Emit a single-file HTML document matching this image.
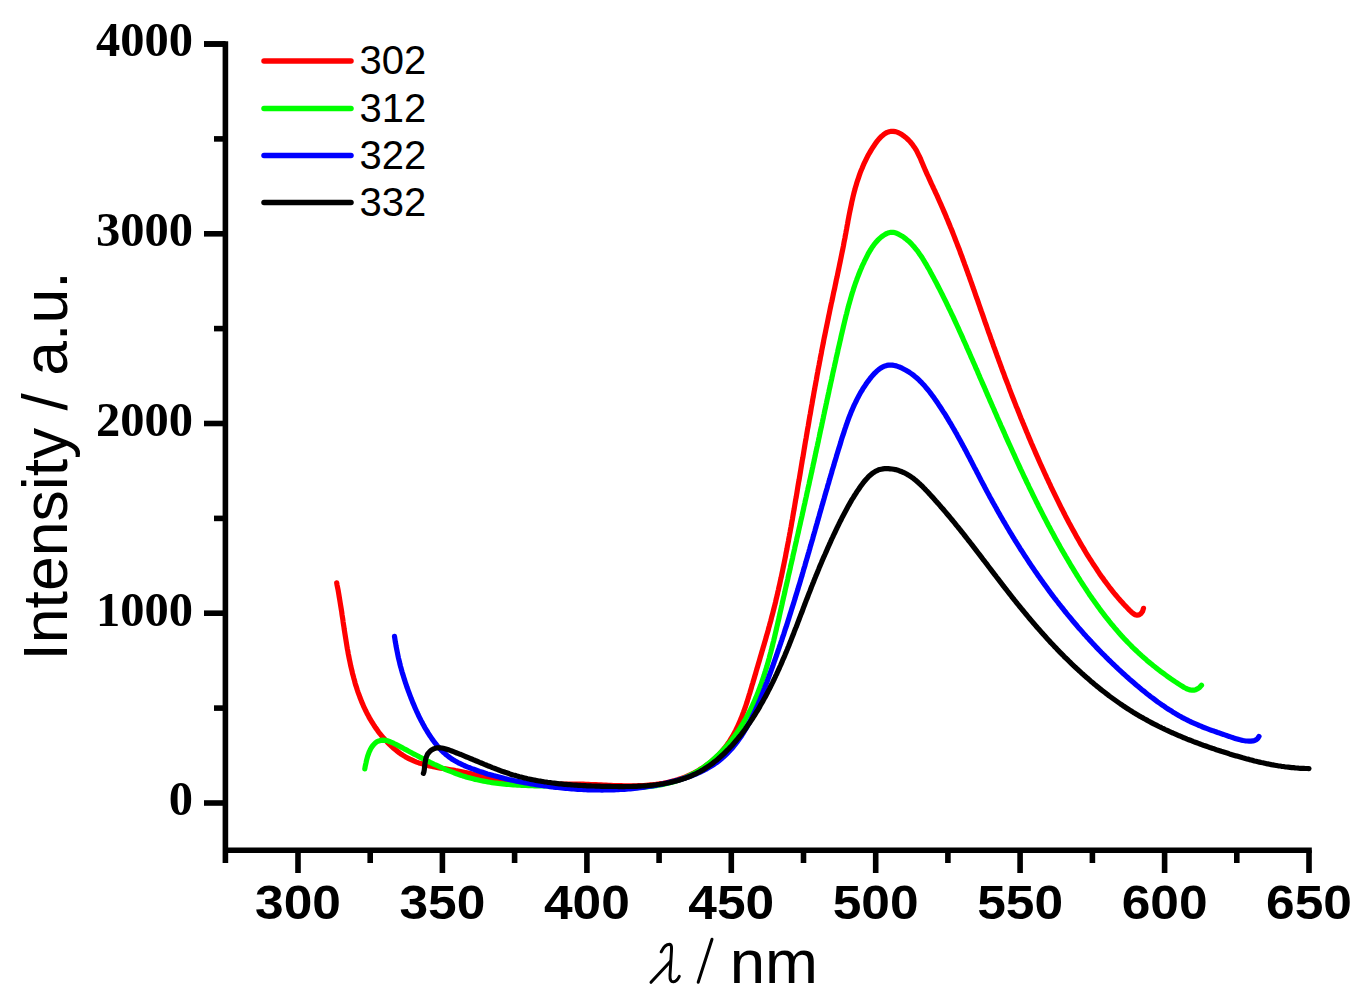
<!DOCTYPE html>
<html><head><meta charset="utf-8"><style>
html,body{margin:0;padding:0;background:#fff;}
svg{display:block;}
</style></head><body>
<svg width="1363" height="1006" viewBox="0 0 1363 1006">
<rect width="1363" height="1006" fill="#fff"/>
<g fill="none" stroke-width="5.2" stroke-linejoin="round" stroke-linecap="round">
<path d="M336.7 582.8 L337.1 585.2 L337.6 587.6 L338.1 590.0 L338.5 592.4 L338.9 594.8 L339.3 597.2 L339.7 599.7 L340.1 602.1 L340.5 604.6 L340.9 607.0 L341.3 609.5 L341.7 611.9 L342.0 614.4 L342.4 616.9 L342.8 619.3 L343.1 621.8 L343.5 624.3 L343.9 626.8 L344.2 629.2 L344.6 631.7 L345.0 634.2 L345.4 636.7 L345.8 639.1 L346.2 641.6 L346.6 644.1 L347.0 646.6 L347.4 649.0 L347.9 651.5 L348.3 654.0 L348.8 656.4 L349.3 658.9 L349.8 661.3 L350.3 663.8 L350.8 666.2 L351.4 668.6 L352.0 671.0 L352.5 673.4 L353.2 675.8 L353.8 678.2 L354.5 680.6 L355.1 683.0 L355.8 685.4 L356.6 687.7 L357.3 690.0 L358.1 692.4 L359.0 694.7 L359.8 697.0 L360.7 699.3 L361.6 701.6 L362.6 703.8 L363.5 706.1 L364.6 708.3 L365.6 710.5 L366.7 712.7 L367.9 714.9 L369.0 717.1 L370.2 719.2 L371.5 721.3 L372.8 723.4 L374.1 725.5 L375.5 727.6 L377.0 729.6 L378.4 731.7 L379.9 733.7 L381.5 735.6 L383.1 737.6 L384.8 739.4 L386.5 741.3 L388.2 743.1 L390.0 744.9 L391.8 746.6 L393.6 748.2 L395.5 749.8 L397.5 751.4 L399.4 752.9 L401.4 754.3 L403.5 755.6 L405.6 756.9 L407.7 758.1 L409.9 759.2 L412.1 760.2 L414.3 761.2 L416.6 762.1 L418.9 762.9 L421.2 763.6 L423.6 764.3 L425.9 765.0 L428.3 765.6 L430.8 766.1 L433.2 766.7 L435.7 767.1 L438.1 767.6 L440.6 768.1 L443.1 768.5 L445.6 768.9 L448.1 769.3 L450.6 769.7 L453.1 770.1 L455.6 770.6 L458.1 771.0 L460.6 771.5 L463.1 772.0 L465.5 772.5 L468.0 773.0 L470.4 773.6 L472.9 774.2 L475.3 774.8 L477.8 775.4 L480.2 776.0 L482.6 776.7 L485.0 777.3 L487.4 777.9 L489.9 778.6 L492.3 779.2 L494.7 779.8 L497.1 780.3 L499.5 780.9 L501.9 781.4 L504.3 781.9 L506.7 782.3 L509.1 782.7 L511.5 783.1 L513.9 783.4 L516.4 783.7 L518.8 783.9 L521.2 784.1 L523.7 784.3 L526.1 784.4 L528.6 784.5 L531.0 784.6 L533.5 784.6 L535.9 784.7 L538.4 784.7 L540.8 784.7 L543.3 784.6 L545.8 784.6 L548.3 784.5 L550.7 784.5 L553.2 784.4 L555.7 784.4 L558.2 784.3 L560.7 784.2 L563.2 784.2 L565.7 784.1 L568.2 784.1 L570.7 784.1 L573.2 784.1 L575.7 784.1 L578.3 784.1 L580.8 784.2 L583.3 784.2 L585.8 784.3 L588.4 784.4 L590.9 784.5 L593.4 784.6 L596.0 784.7 L598.5 784.8 L601.0 784.9 L603.6 785.1 L606.1 785.2 L608.6 785.3 L611.1 785.4 L613.7 785.5 L616.2 785.6 L618.7 785.6 L621.2 785.7 L623.7 785.8 L626.2 785.8 L628.8 785.8 L631.3 785.8 L633.7 785.8 L636.2 785.8 L638.7 785.7 L641.2 785.6 L643.7 785.5 L646.1 785.3 L648.6 785.1 L651.0 784.9 L653.5 784.7 L655.9 784.4 L658.3 784.0 L660.8 783.7 L663.2 783.3 L665.6 782.8 L667.9 782.3 L670.3 781.7 L672.7 781.1 L675.0 780.5 L677.4 779.8 L679.7 779.0 L682.0 778.2 L684.3 777.3 L686.6 776.4 L688.9 775.4 L691.1 774.4 L693.3 773.3 L695.6 772.1 L697.7 770.9 L699.9 769.6 L702.0 768.3 L704.1 766.9 L706.1 765.5 L708.1 764.1 L710.1 762.5 L712.0 761.0 L713.9 759.3 L715.7 757.7 L717.5 756.0 L719.2 754.2 L720.9 752.4 L722.5 750.6 L724.0 748.7 L725.5 746.8 L727.0 744.8 L728.4 742.8 L729.7 740.8 L731.0 738.7 L732.3 736.7 L733.5 734.5 L734.6 732.4 L735.8 730.2 L736.9 728.0 L737.9 725.8 L738.9 723.5 L739.9 721.2 L740.9 718.9 L741.8 716.6 L742.7 714.3 L743.6 711.9 L744.4 709.6 L745.3 707.2 L746.1 704.8 L746.9 702.4 L747.6 700.0 L748.4 697.6 L749.1 695.1 L749.9 692.7 L750.6 690.3 L751.3 687.9 L752.0 685.4 L752.8 683.0 L753.5 680.6 L754.2 678.2 L754.9 675.8 L755.6 673.4 L756.3 670.9 L757.0 668.5 L757.7 666.2 L758.4 663.8 L759.1 661.4 L759.8 659.0 L760.5 656.6 L761.2 654.2 L761.9 651.8 L762.6 649.5 L763.3 647.1 L764.0 644.7 L764.7 642.3 L765.4 640.0 L766.1 637.6 L766.7 635.2 L767.4 632.9 L768.1 630.5 L768.7 628.1 L769.4 625.7 L770.0 623.4 L770.7 621.0 L771.3 618.6 L771.9 616.2 L772.6 613.8 L773.2 611.4 L773.8 609.0 L774.4 606.7 L775.0 604.3 L775.6 601.9 L776.1 599.5 L776.7 597.1 L777.3 594.7 L777.8 592.2 L778.4 589.8 L778.9 587.4 L779.5 585.0 L780.0 582.6 L780.5 580.2 L781.1 577.7 L781.6 575.3 L782.1 572.9 L782.6 570.5 L783.1 568.0 L783.6 565.6 L784.1 563.2 L784.6 560.7 L785.1 558.3 L785.6 555.9 L786.0 553.4 L786.5 551.0 L787.0 548.6 L787.4 546.1 L787.9 543.7 L788.4 541.2 L788.8 538.8 L789.3 536.3 L789.7 533.9 L790.2 531.4 L790.6 529.0 L791.1 526.5 L791.5 524.1 L791.9 521.6 L792.4 519.2 L792.8 516.7 L793.2 514.3 L793.6 511.8 L794.1 509.4 L794.5 506.9 L794.9 504.4 L795.3 502.0 L795.7 499.5 L796.2 497.1 L796.6 494.6 L797.0 492.2 L797.4 489.7 L797.8 487.2 L798.2 484.8 L798.6 482.3 L799.1 479.9 L799.5 477.4 L799.9 475.0 L800.3 472.5 L800.7 470.1 L801.1 467.6 L801.5 465.1 L801.9 462.7 L802.3 460.2 L802.8 457.8 L803.2 455.3 L803.6 452.9 L804.0 450.4 L804.4 448.0 L804.8 445.5 L805.2 443.1 L805.6 440.6 L806.1 438.2 L806.5 435.7 L806.9 433.3 L807.3 430.8 L807.7 428.4 L808.2 425.9 L808.6 423.5 L809.0 421.0 L809.4 418.6 L809.8 416.1 L810.3 413.7 L810.7 411.3 L811.1 408.8 L811.5 406.4 L812.0 403.9 L812.4 401.5 L812.8 399.0 L813.3 396.6 L813.7 394.1 L814.1 391.7 L814.6 389.3 L815.0 386.8 L815.5 384.4 L815.9 381.9 L816.4 379.5 L816.8 377.0 L817.2 374.6 L817.7 372.2 L818.1 369.7 L818.6 367.3 L819.1 364.8 L819.5 362.4 L820.0 360.0 L820.4 357.5 L820.9 355.1 L821.4 352.7 L821.8 350.2 L822.3 347.8 L822.8 345.3 L823.3 342.9 L823.7 340.5 L824.2 338.0 L824.7 335.6 L825.2 333.2 L825.7 330.7 L826.2 328.3 L826.7 325.9 L827.2 323.4 L827.7 321.0 L828.2 318.6 L828.7 316.1 L829.2 313.7 L829.7 311.3 L830.2 308.8 L830.7 306.4 L831.2 304.0 L831.8 301.5 L832.3 299.1 L832.8 296.7 L833.3 294.2 L833.8 291.8 L834.4 289.4 L834.9 286.9 L835.4 284.5 L835.9 282.1 L836.4 279.6 L837.0 277.2 L837.5 274.8 L838.0 272.3 L838.5 269.9 L839.0 267.5 L839.5 265.0 L840.0 262.6 L840.5 260.2 L841.0 257.7 L841.5 255.3 L842.0 252.8 L842.5 250.4 L843.0 248.0 L843.5 245.5 L843.9 243.1 L844.4 240.6 L844.9 238.2 L845.3 235.8 L845.8 233.3 L846.2 230.9 L846.7 228.4 L847.1 226.0 L847.6 223.5 L848.0 221.1 L848.5 218.6 L848.9 216.2 L849.4 213.8 L849.9 211.3 L850.4 208.9 L850.9 206.5 L851.4 204.1 L851.9 201.6 L852.5 199.2 L853.0 196.8 L853.6 194.4 L854.2 192.0 L854.9 189.6 L855.5 187.2 L856.2 184.9 L856.9 182.5 L857.7 180.1 L858.5 177.8 L859.3 175.4 L860.1 173.1 L861.0 170.8 L862.0 168.5 L862.9 166.2 L863.9 163.9 L865.0 161.6 L866.1 159.3 L867.2 157.1 L868.4 154.8 L869.7 152.6 L871.0 150.4 L872.3 148.2 L873.8 146.0 L875.2 143.8 L876.8 141.7 L878.3 139.7 L880.0 137.9 L881.7 136.2 L883.5 134.7 L885.3 133.4 L887.2 132.4 L889.2 131.7 L891.2 131.3 L893.3 131.3 L895.5 131.6 L897.7 132.4 L900.0 133.5 L902.2 134.8 L904.4 136.4 L906.5 138.1 L908.5 140.0 L910.4 142.0 L912.1 144.1 L913.6 146.2 L915.1 148.3 L916.4 150.4 L917.5 152.6 L918.6 154.8 L919.7 157.0 L920.7 159.2 L921.6 161.4 L922.6 163.7 L923.5 165.9 L924.5 168.2 L925.4 170.4 L926.4 172.6 L927.4 174.9 L928.5 177.1 L929.5 179.4 L930.5 181.6 L931.5 183.9 L932.6 186.1 L933.6 188.4 L934.7 190.6 L935.7 192.9 L936.8 195.2 L937.8 197.4 L938.8 199.7 L939.8 202.0 L940.8 204.2 L941.8 206.5 L942.8 208.8 L943.8 211.1 L944.8 213.4 L945.8 215.7 L946.7 218.0 L947.7 220.3 L948.6 222.6 L949.6 224.9 L950.5 227.2 L951.5 229.5 L952.4 231.8 L953.3 234.1 L954.2 236.4 L955.1 238.7 L956.0 241.1 L956.9 243.4 L957.8 245.7 L958.7 248.0 L959.6 250.3 L960.4 252.7 L961.3 255.0 L962.2 257.3 L963.0 259.7 L963.9 262.0 L964.7 264.3 L965.6 266.7 L966.4 269.0 L967.3 271.4 L968.1 273.7 L969.0 276.0 L969.8 278.4 L970.6 280.7 L971.5 283.1 L972.3 285.4 L973.1 287.8 L974.0 290.1 L974.8 292.5 L975.6 294.8 L976.4 297.2 L977.3 299.5 L978.1 301.8 L978.9 304.2 L979.7 306.5 L980.5 308.9 L981.3 311.2 L982.2 313.6 L983.0 315.9 L983.8 318.3 L984.6 320.6 L985.4 323.0 L986.3 325.3 L987.1 327.7 L987.9 330.0 L988.7 332.3 L989.6 334.7 L990.4 337.0 L991.2 339.4 L992.1 341.7 L992.9 344.0 L993.7 346.4 L994.6 348.7 L995.4 351.0 L996.3 353.4 L997.1 355.7 L998.0 358.0 L998.8 360.4 L999.7 362.7 L1000.5 365.0 L1001.4 367.4 L1002.2 369.7 L1003.1 372.0 L1004.0 374.3 L1004.8 376.7 L1005.7 379.0 L1006.6 381.3 L1007.5 383.6 L1008.4 385.9 L1009.2 388.2 L1010.1 390.6 L1011.0 392.9 L1011.9 395.2 L1012.8 397.5 L1013.7 399.8 L1014.6 402.1 L1015.5 404.4 L1016.4 406.7 L1017.4 409.0 L1018.3 411.3 L1019.2 413.6 L1020.1 415.9 L1021.0 418.2 L1022.0 420.5 L1022.9 422.8 L1023.9 425.1 L1024.8 427.4 L1025.8 429.7 L1026.7 432.0 L1027.7 434.3 L1028.6 436.6 L1029.6 438.9 L1030.6 441.2 L1031.5 443.5 L1032.5 445.7 L1033.5 448.0 L1034.5 450.3 L1035.5 452.6 L1036.5 454.9 L1037.5 457.1 L1038.5 459.4 L1039.5 461.7 L1040.5 464.0 L1041.5 466.2 L1042.6 468.5 L1043.6 470.8 L1044.6 473.0 L1045.7 475.3 L1046.7 477.6 L1047.8 479.8 L1048.8 482.1 L1049.9 484.3 L1050.9 486.6 L1052.0 488.9 L1053.1 491.1 L1054.2 493.4 L1055.3 495.6 L1056.4 497.9 L1057.5 500.1 L1058.6 502.3 L1059.7 504.6 L1060.8 506.8 L1061.9 509.1 L1063.1 511.3 L1064.2 513.5 L1065.3 515.7 L1066.5 517.9 L1067.7 520.2 L1068.8 522.4 L1070.0 524.6 L1071.2 526.8 L1072.4 529.0 L1073.6 531.1 L1074.8 533.3 L1076.0 535.5 L1077.2 537.7 L1078.5 539.8 L1079.7 542.0 L1080.9 544.1 L1082.2 546.3 L1083.5 548.4 L1084.7 550.5 L1086.0 552.7 L1087.3 554.8 L1088.6 556.9 L1089.9 559.0 L1091.3 561.0 L1092.6 563.1 L1094.0 565.2 L1095.3 567.2 L1096.7 569.3 L1098.0 571.3 L1099.4 573.4 L1100.8 575.4 L1102.2 577.4 L1103.7 579.4 L1105.1 581.4 L1106.5 583.3 L1108.0 585.3 L1109.5 587.3 L1111.0 589.2 L1112.5 591.1 L1114.1 593.1 L1115.7 595.0 L1117.3 596.9 L1118.9 598.8 L1120.6 600.7 L1122.3 602.6 L1124.0 604.5 L1125.8 606.3 L1127.6 608.2 L1129.4 610.1 L1131.3 611.9 L1133.2 613.5 L1135.1 614.7 L1137.1 615.2 L1139.0 615.0 L1140.8 613.7 L1142.6 611.2 L1143.5 608.3" stroke="#ff0000"/>
<path d="M364.8 768.9 L365.1 767.1 L365.5 765.1 L366.0 763.0 L366.4 760.9 L367.0 758.6 L367.6 756.4 L368.4 754.1 L369.2 751.9 L370.2 749.8 L371.3 747.8 L372.5 746.0 L373.9 744.3 L375.4 742.9 L377.1 741.7 L379.0 740.9 L381.0 740.3 L383.1 740.1 L385.3 740.3 L387.4 740.8 L389.5 741.5 L391.5 742.3 L393.5 743.2 L395.4 744.2 L397.3 745.1 L399.2 746.1 L401.1 747.1 L403.0 748.1 L404.8 749.2 L406.8 750.2 L408.7 751.2 L410.6 752.2 L412.5 753.3 L414.5 754.3 L416.4 755.3 L418.4 756.3 L420.3 757.4 L422.3 758.4 L424.3 759.4 L426.2 760.4 L428.2 761.4 L430.2 762.4 L432.2 763.3 L434.2 764.3 L436.2 765.2 L438.3 766.2 L440.3 767.1 L442.3 768.0 L444.3 768.9 L446.4 769.8 L448.4 770.6 L450.5 771.4 L452.5 772.2 L454.6 773.0 L456.6 773.8 L458.7 774.5 L460.7 775.2 L462.8 775.9 L464.9 776.5 L466.9 777.2 L469.0 777.7 L471.1 778.3 L473.2 778.8 L475.2 779.4 L477.3 779.8 L479.4 780.3 L481.5 780.7 L483.6 781.1 L485.7 781.5 L487.8 781.9 L489.9 782.2 L492.0 782.6 L494.1 782.9 L496.2 783.1 L498.3 783.4 L500.4 783.7 L502.5 783.9 L504.7 784.1 L506.8 784.3 L508.9 784.5 L511.0 784.7 L513.2 784.8 L515.3 784.9 L517.4 785.1 L519.6 785.2 L521.7 785.3 L523.9 785.4 L526.0 785.5 L528.2 785.6 L530.3 785.6 L532.5 785.7 L534.6 785.8 L536.8 785.8 L539.0 785.9 L541.2 785.9 L543.3 785.9 L545.5 786.0 L547.7 786.0 L549.9 786.0 L552.1 786.1 L554.3 786.1 L556.5 786.1 L558.7 786.2 L560.9 786.2 L563.1 786.3 L565.3 786.3 L567.5 786.3 L569.8 786.4 L572.0 786.5 L574.2 786.5 L576.5 786.6 L578.7 786.7 L580.9 786.7 L583.2 786.8 L585.4 786.9 L587.7 787.0 L589.9 787.1 L592.2 787.2 L594.4 787.3 L596.7 787.4 L598.9 787.5 L601.2 787.5 L603.4 787.6 L605.7 787.7 L607.9 787.8 L610.2 787.8 L612.4 787.9 L614.7 787.9 L616.9 787.9 L619.2 788.0 L621.4 788.0 L623.6 788.0 L625.8 787.9 L628.1 787.9 L630.3 787.8 L632.5 787.8 L634.7 787.7 L636.9 787.6 L639.1 787.5 L641.3 787.3 L643.4 787.1 L645.6 787.0 L647.8 786.7 L649.9 786.5 L652.0 786.2 L654.2 785.9 L656.3 785.6 L658.4 785.3 L660.5 784.9 L662.6 784.5 L664.7 784.1 L666.7 783.6 L668.8 783.1 L670.8 782.6 L672.9 782.0 L674.9 781.4 L676.9 780.8 L678.9 780.1 L680.8 779.4 L682.8 778.6 L684.7 777.8 L686.7 777.0 L688.6 776.1 L690.5 775.1 L692.3 774.2 L694.2 773.2 L696.0 772.1 L697.9 771.0 L699.7 769.9 L701.5 768.7 L703.2 767.5 L705.0 766.2 L706.7 764.9 L708.4 763.6 L710.1 762.2 L711.8 760.9 L713.4 759.4 L715.0 758.0 L716.6 756.5 L718.2 755.0 L719.8 753.5 L721.3 751.9 L722.8 750.3 L724.3 748.7 L725.8 747.1 L727.2 745.4 L728.6 743.8 L730.0 742.1 L731.4 740.4 L732.7 738.6 L734.0 736.9 L735.3 735.1 L736.5 733.4 L737.8 731.6 L739.0 729.8 L740.1 728.0 L741.3 726.2 L742.4 724.3 L743.5 722.5 L744.6 720.6 L745.7 718.8 L746.7 716.9 L747.7 715.0 L748.7 713.1 L749.7 711.1 L750.7 709.2 L751.6 707.3 L752.5 705.3 L753.4 703.3 L754.3 701.4 L755.1 699.4 L756.0 697.4 L756.8 695.4 L757.6 693.4 L758.4 691.4 L759.2 689.3 L759.9 687.3 L760.7 685.3 L761.4 683.2 L762.1 681.2 L762.8 679.1 L763.5 677.0 L764.2 674.9 L764.8 672.9 L765.5 670.8 L766.1 668.7 L766.8 666.6 L767.4 664.5 L768.0 662.4 L768.6 660.2 L769.2 658.1 L769.7 656.0 L770.3 653.9 L770.9 651.7 L771.4 649.6 L772.0 647.5 L772.5 645.3 L773.0 643.2 L773.6 641.1 L774.1 638.9 L774.6 636.8 L775.1 634.6 L775.6 632.5 L776.1 630.3 L776.6 628.2 L777.1 626.0 L777.6 623.9 L778.1 621.7 L778.6 619.6 L779.1 617.4 L779.5 615.3 L780.0 613.1 L780.5 611.0 L781.0 608.8 L781.5 606.7 L782.0 604.5 L782.4 602.4 L782.9 600.3 L783.4 598.1 L783.9 596.0 L784.4 593.9 L784.9 591.7 L785.3 589.6 L785.8 587.5 L786.3 585.3 L786.8 583.2 L787.3 581.1 L787.8 579.0 L788.2 576.8 L788.7 574.7 L789.2 572.6 L789.7 570.5 L790.2 568.3 L790.6 566.2 L791.1 564.1 L791.6 562.0 L792.1 559.9 L792.6 557.8 L793.0 555.6 L793.5 553.5 L794.0 551.4 L794.5 549.3 L794.9 547.2 L795.4 545.1 L795.9 542.9 L796.4 540.8 L796.8 538.7 L797.3 536.6 L797.8 534.5 L798.3 532.4 L798.7 530.3 L799.2 528.2 L799.7 526.0 L800.2 523.9 L800.6 521.8 L801.1 519.7 L801.6 517.6 L802.1 515.5 L802.5 513.4 L803.0 511.3 L803.5 509.2 L803.9 507.0 L804.4 504.9 L804.9 502.8 L805.3 500.7 L805.8 498.6 L806.3 496.5 L806.7 494.4 L807.2 492.2 L807.7 490.1 L808.1 488.0 L808.6 485.9 L809.1 483.8 L809.5 481.7 L810.0 479.5 L810.5 477.4 L810.9 475.3 L811.4 473.2 L811.9 471.1 L812.3 468.9 L812.8 466.8 L813.2 464.7 L813.7 462.6 L814.2 460.4 L814.6 458.3 L815.1 456.2 L815.5 454.0 L816.0 451.9 L816.4 449.8 L816.9 447.7 L817.4 445.5 L817.8 443.4 L818.3 441.3 L818.7 439.1 L819.2 437.0 L819.6 434.9 L820.1 432.7 L820.5 430.6 L821.0 428.4 L821.5 426.3 L821.9 424.2 L822.4 422.0 L822.8 419.9 L823.3 417.8 L823.7 415.6 L824.2 413.5 L824.6 411.4 L825.1 409.2 L825.6 407.1 L826.0 404.9 L826.5 402.8 L826.9 400.7 L827.4 398.5 L827.9 396.4 L828.3 394.3 L828.8 392.1 L829.2 390.0 L829.7 387.9 L830.2 385.7 L830.6 383.6 L831.1 381.5 L831.6 379.3 L832.0 377.2 L832.5 375.1 L832.9 372.9 L833.4 370.8 L833.9 368.7 L834.4 366.5 L834.8 364.4 L835.3 362.3 L835.8 360.1 L836.2 358.0 L836.7 355.9 L837.2 353.8 L837.7 351.6 L838.1 349.5 L838.6 347.4 L839.1 345.3 L839.6 343.2 L840.1 341.0 L840.6 338.9 L841.0 336.8 L841.5 334.7 L842.0 332.6 L842.5 330.5 L843.0 328.3 L843.5 326.2 L844.0 324.1 L844.5 322.0 L845.0 319.9 L845.5 317.8 L846.0 315.7 L846.6 313.6 L847.1 311.5 L847.6 309.4 L848.2 307.3 L848.7 305.2 L849.3 303.2 L849.9 301.1 L850.5 299.0 L851.1 296.9 L851.7 294.8 L852.3 292.8 L853.0 290.7 L853.6 288.6 L854.3 286.6 L855.0 284.5 L855.7 282.5 L856.5 280.4 L857.2 278.4 L858.0 276.4 L858.8 274.3 L859.6 272.3 L860.4 270.3 L861.3 268.3 L862.1 266.3 L863.0 264.3 L864.0 262.3 L864.9 260.3 L865.9 258.3 L866.9 256.3 L867.9 254.3 L869.0 252.4 L870.1 250.5 L871.3 248.6 L872.5 246.7 L873.8 244.9 L875.2 243.2 L876.6 241.5 L878.1 239.9 L879.7 238.4 L881.4 236.9 L883.2 235.6 L885.1 234.4 L887.0 233.4 L888.9 232.7 L890.9 232.3 L892.9 232.3 L894.8 232.6 L896.7 233.3 L898.6 234.2 L900.4 235.2 L902.2 236.2 L903.9 237.4 L905.5 238.6 L907.1 239.9 L908.7 241.2 L910.2 242.7 L911.7 244.2 L913.1 245.7 L914.5 247.3 L915.8 249.0 L917.2 250.6 L918.5 252.4 L919.7 254.2 L921.0 256.0 L922.2 257.8 L923.3 259.7 L924.5 261.6 L925.6 263.5 L926.8 265.4 L927.9 267.4 L929.0 269.3 L930.1 271.3 L931.1 273.3 L932.2 275.2 L933.3 277.2 L934.3 279.1 L935.3 281.1 L936.4 283.1 L937.4 285.0 L938.4 287.0 L939.4 288.9 L940.4 290.9 L941.4 292.9 L942.4 294.8 L943.4 296.8 L944.4 298.8 L945.3 300.7 L946.3 302.7 L947.2 304.6 L948.2 306.6 L949.1 308.6 L950.1 310.5 L951.0 312.5 L951.9 314.5 L952.9 316.4 L953.8 318.4 L954.7 320.4 L955.6 322.3 L956.5 324.3 L957.4 326.3 L958.3 328.2 L959.2 330.2 L960.1 332.2 L961.0 334.1 L961.9 336.1 L962.8 338.1 L963.6 340.1 L964.5 342.0 L965.4 344.0 L966.3 346.0 L967.1 348.0 L968.0 349.9 L968.9 351.9 L969.8 353.9 L970.6 355.9 L971.5 357.8 L972.4 359.8 L973.2 361.8 L974.1 363.8 L975.0 365.8 L975.8 367.8 L976.7 369.7 L977.6 371.7 L978.4 373.7 L979.3 375.7 L980.1 377.7 L981.0 379.7 L981.9 381.7 L982.7 383.7 L983.6 385.6 L984.5 387.6 L985.3 389.6 L986.2 391.6 L987.0 393.6 L987.9 395.6 L988.8 397.6 L989.6 399.6 L990.5 401.6 L991.4 403.6 L992.2 405.6 L993.1 407.5 L994.0 409.5 L994.8 411.5 L995.7 413.5 L996.6 415.5 L997.4 417.5 L998.3 419.5 L999.2 421.5 L1000.1 423.5 L1000.9 425.5 L1001.8 427.4 L1002.7 429.4 L1003.6 431.4 L1004.5 433.4 L1005.3 435.4 L1006.2 437.4 L1007.1 439.4 L1008.0 441.4 L1008.9 443.3 L1009.8 445.3 L1010.7 447.3 L1011.6 449.3 L1012.5 451.3 L1013.4 453.3 L1014.3 455.2 L1015.2 457.2 L1016.1 459.2 L1017.0 461.2 L1017.9 463.2 L1018.8 465.1 L1019.7 467.1 L1020.6 469.1 L1021.6 471.1 L1022.5 473.0 L1023.4 475.0 L1024.3 477.0 L1025.3 478.9 L1026.2 480.9 L1027.1 482.9 L1028.1 484.8 L1029.0 486.8 L1030.0 488.8 L1030.9 490.7 L1031.9 492.7 L1032.8 494.6 L1033.8 496.6 L1034.8 498.6 L1035.7 500.5 L1036.7 502.5 L1037.7 504.4 L1038.6 506.4 L1039.6 508.3 L1040.6 510.2 L1041.6 512.2 L1042.6 514.1 L1043.6 516.1 L1044.6 518.0 L1045.6 519.9 L1046.6 521.9 L1047.6 523.8 L1048.6 525.7 L1049.7 527.6 L1050.7 529.6 L1051.7 531.5 L1052.8 533.4 L1053.8 535.3 L1054.8 537.2 L1055.9 539.2 L1057.0 541.1 L1058.0 543.0 L1059.1 544.9 L1060.1 546.8 L1061.2 548.7 L1062.3 550.6 L1063.4 552.5 L1064.5 554.4 L1065.6 556.3 L1066.7 558.1 L1067.8 560.0 L1068.9 561.9 L1070.0 563.8 L1071.1 565.7 L1072.3 567.5 L1073.4 569.4 L1074.5 571.3 L1075.7 573.1 L1076.8 575.0 L1078.0 576.9 L1079.2 578.7 L1080.3 580.6 L1081.5 582.4 L1082.7 584.3 L1083.9 586.1 L1085.1 587.9 L1086.3 589.7 L1087.5 591.6 L1088.7 593.4 L1089.9 595.2 L1091.2 597.0 L1092.4 598.8 L1093.7 600.6 L1094.9 602.3 L1096.2 604.1 L1097.5 605.9 L1098.8 607.6 L1100.0 609.4 L1101.3 611.1 L1102.7 612.9 L1104.0 614.6 L1105.3 616.3 L1106.6 618.0 L1108.0 619.7 L1109.3 621.4 L1110.7 623.1 L1112.1 624.8 L1113.5 626.4 L1114.9 628.1 L1116.3 629.7 L1117.7 631.4 L1119.1 633.0 L1120.5 634.6 L1122.0 636.2 L1123.4 637.8 L1124.9 639.4 L1126.4 640.9 L1127.9 642.5 L1129.4 644.0 L1130.9 645.5 L1132.4 647.1 L1134.0 648.6 L1135.5 650.0 L1137.1 651.5 L1138.6 653.0 L1140.2 654.4 L1141.8 655.9 L1143.4 657.3 L1145.1 658.7 L1146.7 660.2 L1148.3 661.6 L1150.0 662.9 L1151.7 664.3 L1153.4 665.7 L1155.1 667.0 L1156.8 668.4 L1158.5 669.7 L1160.2 671.1 L1162.0 672.4 L1163.8 673.7 L1165.6 675.0 L1167.4 676.3 L1169.2 677.6 L1171.0 678.9 L1172.8 680.1 L1174.7 681.4 L1176.6 682.6 L1178.5 683.9 L1180.4 685.1 L1182.3 686.3 L1184.2 687.5 L1186.2 688.5 L1188.1 689.3 L1190.0 689.9 L1192.0 690.2 L1193.9 690.1 L1195.8 689.7 L1197.8 688.7 L1199.7 687.3 L1201.5 685.3" stroke="#00ff00"/>
<path d="M394.5 636.3 L394.8 638.3 L395.1 640.3 L395.4 642.3 L395.8 644.3 L396.1 646.3 L396.5 648.3 L396.9 650.3 L397.3 652.2 L397.7 654.2 L398.1 656.2 L398.5 658.1 L399.0 660.1 L399.5 662.0 L399.9 664.0 L400.4 665.9 L401.0 667.9 L401.5 669.8 L402.0 671.7 L402.6 673.6 L403.2 675.6 L403.8 677.5 L404.4 679.4 L405.0 681.3 L405.6 683.2 L406.3 685.1 L406.9 687.0 L407.6 688.9 L408.3 690.8 L409.0 692.7 L409.7 694.6 L410.4 696.4 L411.1 698.3 L411.9 700.2 L412.6 702.1 L413.4 703.9 L414.2 705.8 L415.0 707.7 L415.8 709.5 L416.6 711.3 L417.5 713.2 L418.3 715.0 L419.2 716.8 L420.1 718.6 L421.0 720.4 L422.0 722.2 L422.9 724.0 L423.9 725.8 L424.8 727.5 L425.8 729.2 L426.9 730.9 L427.9 732.6 L429.0 734.3 L430.1 736.0 L431.2 737.6 L432.3 739.2 L433.4 740.8 L434.6 742.4 L435.8 743.9 L437.0 745.5 L438.3 746.9 L439.6 748.4 L440.9 749.8 L442.3 751.2 L443.7 752.6 L445.2 753.9 L446.7 755.1 L448.2 756.4 L449.8 757.5 L451.4 758.7 L453.1 759.8 L454.8 760.8 L456.6 761.8 L458.4 762.8 L460.3 763.7 L462.2 764.6 L464.1 765.5 L466.0 766.3 L467.9 767.1 L469.9 767.8 L471.8 768.6 L473.8 769.3 L475.8 770.0 L477.7 770.7 L479.7 771.4 L481.6 772.0 L483.6 772.6 L485.5 773.3 L487.4 773.9 L489.4 774.4 L491.3 775.0 L493.3 775.6 L495.2 776.1 L497.1 776.6 L499.1 777.1 L501.0 777.6 L502.9 778.1 L504.9 778.6 L506.8 779.0 L508.7 779.5 L510.7 779.9 L512.6 780.3 L514.6 780.7 L516.5 781.1 L518.4 781.5 L520.4 781.9 L522.3 782.3 L524.3 782.6 L526.2 783.0 L528.1 783.3 L530.1 783.6 L532.1 784.0 L534.0 784.3 L536.0 784.6 L537.9 784.9 L539.9 785.2 L541.9 785.5 L543.8 785.8 L545.8 786.0 L547.8 786.3 L549.8 786.6 L551.8 786.8 L553.7 787.1 L555.7 787.3 L557.7 787.5 L559.7 787.7 L561.7 787.9 L563.7 788.1 L565.7 788.3 L567.7 788.5 L569.7 788.7 L571.7 788.9 L573.7 789.0 L575.7 789.1 L577.8 789.3 L579.8 789.4 L581.8 789.5 L583.8 789.6 L585.8 789.7 L587.8 789.8 L589.8 789.9 L591.9 789.9 L593.9 790.0 L595.9 790.0 L597.9 790.0 L600.0 790.0 L602.0 790.1 L604.0 790.0 L606.0 790.0 L608.1 790.0 L610.1 789.9 L612.1 789.9 L614.1 789.8 L616.2 789.7 L618.2 789.6 L620.2 789.5 L622.2 789.4 L624.3 789.3 L626.3 789.1 L628.3 788.9 L630.3 788.8 L632.4 788.6 L634.4 788.4 L636.4 788.2 L638.4 787.9 L640.4 787.7 L642.5 787.4 L644.5 787.1 L646.5 786.8 L648.5 786.5 L650.5 786.2 L652.6 785.9 L654.6 785.5 L656.6 785.1 L658.6 784.8 L660.6 784.4 L662.6 783.9 L664.6 783.5 L666.6 783.0 L668.6 782.6 L670.6 782.1 L672.6 781.6 L674.6 781.1 L676.6 780.5 L678.6 780.0 L680.5 779.4 L682.5 778.8 L684.4 778.2 L686.4 777.5 L688.3 776.9 L690.2 776.2 L692.1 775.5 L694.0 774.7 L695.9 774.0 L697.7 773.2 L699.6 772.3 L701.4 771.5 L703.2 770.6 L704.9 769.7 L706.7 768.8 L708.4 767.8 L710.1 766.8 L711.8 765.8 L713.4 764.8 L715.0 763.7 L716.6 762.6 L718.2 761.4 L719.7 760.2 L721.2 759.0 L722.6 757.7 L724.1 756.5 L725.5 755.1 L726.9 753.8 L728.2 752.4 L729.6 751.0 L730.9 749.6 L732.1 748.2 L733.4 746.7 L734.6 745.2 L735.8 743.6 L737.0 742.1 L738.2 740.5 L739.3 738.9 L740.5 737.3 L741.6 735.7 L742.6 734.0 L743.7 732.3 L744.7 730.6 L745.8 728.9 L746.8 727.2 L747.7 725.5 L748.7 723.7 L749.7 721.9 L750.6 720.1 L751.5 718.3 L752.4 716.5 L753.3 714.7 L754.2 712.8 L755.1 711.0 L755.9 709.1 L756.7 707.2 L757.6 705.4 L758.4 703.5 L759.2 701.6 L760.0 699.7 L760.8 697.8 L761.5 695.9 L762.3 693.9 L763.1 692.0 L763.8 690.1 L764.6 688.2 L765.3 686.2 L766.0 684.3 L766.8 682.4 L767.5 680.5 L768.2 678.5 L768.9 676.6 L769.6 674.7 L770.3 672.8 L771.0 670.8 L771.7 668.9 L772.4 667.0 L773.1 665.1 L773.8 663.2 L774.4 661.3 L775.1 659.3 L775.8 657.4 L776.5 655.5 L777.1 653.6 L777.8 651.7 L778.4 649.8 L779.1 647.9 L779.7 646.0 L780.4 644.1 L781.0 642.2 L781.7 640.3 L782.3 638.4 L782.9 636.5 L783.6 634.6 L784.2 632.7 L784.8 630.8 L785.4 628.9 L786.1 627.0 L786.7 625.1 L787.3 623.2 L787.9 621.3 L788.5 619.4 L789.1 617.5 L789.7 615.5 L790.3 613.6 L790.9 611.7 L791.5 609.8 L792.1 607.9 L792.7 606.0 L793.3 604.1 L793.9 602.2 L794.5 600.3 L795.1 598.4 L795.6 596.5 L796.2 594.6 L796.8 592.7 L797.4 590.8 L798.0 588.9 L798.5 587.0 L799.1 585.1 L799.7 583.2 L800.3 581.3 L800.8 579.4 L801.4 577.5 L802.0 575.6 L802.5 573.6 L803.1 571.7 L803.6 569.8 L804.2 567.9 L804.8 566.0 L805.3 564.1 L805.9 562.1 L806.4 560.2 L807.0 558.3 L807.6 556.4 L808.1 554.4 L808.7 552.5 L809.2 550.6 L809.8 548.7 L810.3 546.7 L810.9 544.8 L811.4 542.9 L812.0 540.9 L812.6 539.0 L813.1 537.1 L813.7 535.1 L814.2 533.2 L814.8 531.2 L815.3 529.3 L815.9 527.4 L816.4 525.4 L817.0 523.5 L817.5 521.5 L818.1 519.6 L818.6 517.7 L819.2 515.7 L819.7 513.8 L820.3 511.8 L820.8 509.9 L821.4 507.9 L821.9 506.0 L822.5 504.1 L823.1 502.1 L823.6 500.2 L824.2 498.2 L824.7 496.3 L825.3 494.3 L825.8 492.4 L826.4 490.5 L827.0 488.5 L827.5 486.6 L828.1 484.6 L828.7 482.7 L829.2 480.7 L829.8 478.8 L830.3 476.9 L830.9 474.9 L831.5 473.0 L832.0 471.1 L832.6 469.1 L833.2 467.2 L833.8 465.3 L834.3 463.3 L834.9 461.4 L835.5 459.5 L836.1 457.5 L836.6 455.6 L837.2 453.7 L837.8 451.7 L838.4 449.8 L839.0 447.9 L839.6 446.0 L840.2 444.1 L840.8 442.1 L841.3 440.2 L841.9 438.3 L842.5 436.4 L843.2 434.5 L843.8 432.6 L844.4 430.7 L845.0 428.8 L845.7 426.9 L846.3 425.0 L847.0 423.1 L847.7 421.2 L848.3 419.4 L849.0 417.5 L849.8 415.6 L850.5 413.8 L851.2 411.9 L852.0 410.1 L852.8 408.2 L853.6 406.4 L854.4 404.6 L855.3 402.8 L856.2 401.0 L857.1 399.2 L858.0 397.4 L859.0 395.6 L859.9 393.9 L860.9 392.1 L862.0 390.4 L863.0 388.6 L864.1 386.9 L865.3 385.2 L866.4 383.5 L867.6 381.8 L868.9 380.1 L870.1 378.5 L871.4 376.9 L872.8 375.3 L874.2 373.7 L875.6 372.3 L877.1 370.9 L878.6 369.6 L880.1 368.5 L881.7 367.5 L883.4 366.6 L885.1 365.9 L886.8 365.4 L888.6 365.1 L890.5 365.0 L892.4 365.1 L894.3 365.5 L896.3 365.9 L898.2 366.6 L900.2 367.3 L902.1 368.2 L904.0 369.2 L905.9 370.2 L907.6 371.2 L909.4 372.3 L911.1 373.5 L912.7 374.7 L914.3 375.9 L915.9 377.2 L917.4 378.5 L918.9 379.9 L920.3 381.3 L921.7 382.7 L923.1 384.2 L924.4 385.6 L925.7 387.2 L927.0 388.7 L928.3 390.2 L929.5 391.8 L930.7 393.4 L931.9 395.0 L933.1 396.6 L934.3 398.3 L935.4 399.9 L936.6 401.5 L937.7 403.2 L938.8 404.9 L939.9 406.5 L941.1 408.2 L942.1 409.9 L943.2 411.6 L944.3 413.2 L945.4 414.9 L946.4 416.6 L947.5 418.4 L948.5 420.1 L949.5 421.8 L950.6 423.5 L951.6 425.2 L952.6 427.0 L953.6 428.7 L954.6 430.4 L955.6 432.2 L956.6 433.9 L957.5 435.7 L958.5 437.4 L959.5 439.2 L960.5 441.0 L961.4 442.7 L962.4 444.5 L963.3 446.3 L964.3 448.0 L965.2 449.8 L966.2 451.6 L967.1 453.4 L968.0 455.2 L969.0 456.9 L969.9 458.7 L970.8 460.5 L971.8 462.3 L972.7 464.1 L973.6 465.9 L974.5 467.7 L975.5 469.4 L976.4 471.2 L977.3 473.0 L978.3 474.8 L979.2 476.6 L980.1 478.4 L981.0 480.2 L982.0 482.0 L982.9 483.7 L983.9 485.5 L984.8 487.3 L985.7 489.1 L986.7 490.9 L987.6 492.6 L988.6 494.4 L989.5 496.2 L990.5 498.0 L991.5 499.7 L992.4 501.5 L993.4 503.3 L994.4 505.0 L995.4 506.8 L996.4 508.5 L997.3 510.3 L998.3 512.1 L999.3 513.8 L1000.3 515.6 L1001.3 517.3 L1002.3 519.0 L1003.3 520.8 L1004.4 522.5 L1005.4 524.3 L1006.4 526.0 L1007.4 527.7 L1008.5 529.5 L1009.5 531.2 L1010.5 532.9 L1011.6 534.6 L1012.6 536.4 L1013.7 538.1 L1014.7 539.8 L1015.8 541.5 L1016.8 543.2 L1017.9 544.9 L1019.0 546.6 L1020.0 548.3 L1021.1 550.0 L1022.2 551.7 L1023.3 553.4 L1024.4 555.1 L1025.5 556.8 L1026.6 558.4 L1027.7 560.1 L1028.8 561.8 L1029.9 563.5 L1031.0 565.1 L1032.1 566.8 L1033.3 568.5 L1034.4 570.1 L1035.5 571.8 L1036.7 573.4 L1037.8 575.1 L1039.0 576.7 L1040.1 578.4 L1041.3 580.0 L1042.5 581.6 L1043.6 583.3 L1044.8 584.9 L1046.0 586.5 L1047.2 588.1 L1048.3 589.8 L1049.5 591.4 L1050.7 593.0 L1051.9 594.6 L1053.1 596.2 L1054.3 597.8 L1055.6 599.4 L1056.8 601.0 L1058.0 602.5 L1059.2 604.1 L1060.5 605.7 L1061.7 607.3 L1063.0 608.8 L1064.2 610.4 L1065.5 612.0 L1066.7 613.5 L1068.0 615.1 L1069.3 616.6 L1070.6 618.2 L1071.8 619.7 L1073.1 621.3 L1074.4 622.8 L1075.7 624.3 L1077.0 625.8 L1078.3 627.4 L1079.7 628.9 L1081.0 630.4 L1082.3 631.9 L1083.6 633.4 L1085.0 634.9 L1086.3 636.4 L1087.7 637.9 L1089.0 639.4 L1090.4 640.8 L1091.7 642.3 L1093.1 643.8 L1094.5 645.2 L1095.9 646.7 L1097.2 648.2 L1098.6 649.6 L1100.0 651.0 L1101.4 652.5 L1102.8 653.9 L1104.3 655.3 L1105.7 656.8 L1107.1 658.2 L1108.5 659.6 L1110.0 661.0 L1111.4 662.4 L1112.9 663.8 L1114.3 665.2 L1115.8 666.6 L1117.3 668.0 L1118.7 669.4 L1120.2 670.7 L1121.7 672.1 L1123.2 673.5 L1124.7 674.8 L1126.2 676.2 L1127.7 677.5 L1129.2 678.9 L1130.8 680.2 L1132.3 681.5 L1133.8 682.8 L1135.4 684.2 L1136.9 685.5 L1138.5 686.8 L1140.0 688.1 L1141.6 689.4 L1143.2 690.7 L1144.8 691.9 L1146.3 693.2 L1147.9 694.5 L1149.5 695.7 L1151.1 697.0 L1152.8 698.2 L1154.4 699.4 L1156.0 700.6 L1157.6 701.8 L1159.3 703.0 L1160.9 704.1 L1162.6 705.3 L1164.3 706.4 L1165.9 707.6 L1167.6 708.7 L1169.3 709.8 L1171.0 710.8 L1172.7 711.9 L1174.4 712.9 L1176.1 714.0 L1177.8 715.0 L1179.5 716.0 L1181.3 716.9 L1183.0 717.9 L1184.8 718.8 L1186.5 719.7 L1188.3 720.6 L1190.1 721.5 L1191.9 722.3 L1193.7 723.1 L1195.5 723.9 L1197.3 724.7 L1199.1 725.5 L1200.9 726.2 L1202.7 727.0 L1204.6 727.7 L1206.4 728.4 L1208.3 729.1 L1210.1 729.8 L1212.0 730.5 L1213.9 731.1 L1215.8 731.8 L1217.7 732.5 L1219.6 733.1 L1221.5 733.8 L1223.4 734.4 L1225.4 735.1 L1227.3 735.8 L1229.2 736.4 L1231.2 737.1 L1233.2 737.8 L1235.1 738.4 L1237.1 739.0 L1239.1 739.6 L1241.1 740.1 L1243.1 740.5 L1245.0 740.8 L1247.0 741.0 L1249.0 741.1 L1251.0 741.1 L1252.9 740.9 L1254.7 740.4 L1256.4 739.6 L1257.8 738.3 L1259.0 736.4" stroke="#0000ff"/>
<path d="M423.4 773.4 L423.9 771.9 L424.2 770.3 L424.4 768.6 L424.6 766.9 L424.8 765.1 L425.0 763.3 L425.3 761.5 L425.6 759.7 L426.0 757.9 L426.6 756.3 L427.3 754.7 L428.2 753.2 L429.4 751.9 L430.7 750.7 L432.1 749.7 L433.6 748.9 L435.1 748.3 L436.7 747.9 L438.3 747.8 L440.0 747.8 L441.6 748.0 L443.3 748.3 L445.0 748.7 L446.7 749.2 L448.4 749.8 L450.1 750.4 L451.8 751.0 L453.5 751.6 L455.2 752.3 L456.8 753.0 L458.5 753.6 L460.2 754.3 L461.8 754.9 L463.5 755.6 L465.1 756.3 L466.7 757.0 L468.4 757.6 L470.0 758.3 L471.6 759.0 L473.2 759.7 L474.8 760.3 L476.4 761.0 L478.0 761.7 L479.6 762.4 L481.2 763.0 L482.8 763.7 L484.4 764.4 L486.0 765.0 L487.6 765.7 L489.2 766.3 L490.8 766.9 L492.4 767.6 L493.9 768.2 L495.5 768.8 L497.1 769.4 L498.7 770.0 L500.3 770.6 L501.9 771.2 L503.5 771.7 L505.1 772.3 L506.6 772.8 L508.2 773.3 L509.8 773.9 L511.4 774.4 L513.1 774.9 L514.7 775.3 L516.3 775.8 L517.9 776.2 L519.5 776.7 L521.1 777.1 L522.8 777.5 L524.4 777.9 L526.0 778.3 L527.7 778.7 L529.3 779.0 L530.9 779.4 L532.6 779.7 L534.2 780.0 L535.9 780.4 L537.6 780.7 L539.2 781.0 L540.9 781.2 L542.5 781.5 L544.2 781.8 L545.9 782.0 L547.6 782.3 L549.2 782.5 L550.9 782.7 L552.6 783.0 L554.3 783.2 L556.0 783.4 L557.7 783.6 L559.4 783.8 L561.1 783.9 L562.8 784.1 L564.5 784.3 L566.2 784.4 L567.9 784.6 L569.6 784.7 L571.4 784.8 L573.1 785.0 L574.8 785.1 L576.5 785.2 L578.3 785.3 L580.0 785.4 L581.7 785.5 L583.5 785.6 L585.2 785.7 L587.0 785.8 L588.7 785.8 L590.5 785.9 L592.2 786.0 L594.0 786.0 L595.8 786.1 L597.5 786.1 L599.3 786.2 L601.1 786.3 L602.8 786.3 L604.6 786.3 L606.4 786.4 L608.2 786.4 L609.9 786.4 L611.7 786.5 L613.5 786.5 L615.3 786.5 L617.1 786.5 L618.9 786.6 L620.7 786.6 L622.5 786.6 L624.3 786.6 L626.0 786.5 L627.8 786.5 L629.6 786.5 L631.4 786.5 L633.2 786.4 L635.0 786.4 L636.8 786.3 L638.5 786.2 L640.3 786.1 L642.1 786.0 L643.9 785.9 L645.6 785.8 L647.4 785.7 L649.1 785.5 L650.9 785.3 L652.6 785.2 L654.4 785.0 L656.1 784.8 L657.8 784.5 L659.6 784.3 L661.3 784.0 L663.0 783.8 L664.7 783.5 L666.4 783.2 L668.1 782.8 L669.7 782.5 L671.4 782.1 L673.1 781.7 L674.7 781.3 L676.4 780.9 L678.0 780.5 L679.6 780.0 L681.2 779.5 L682.8 779.0 L684.4 778.4 L686.0 777.9 L687.5 777.3 L689.1 776.7 L690.6 776.1 L692.2 775.4 L693.7 774.7 L695.2 774.0 L696.7 773.3 L698.1 772.5 L699.6 771.7 L701.0 770.9 L702.5 770.1 L703.9 769.2 L705.3 768.3 L706.7 767.4 L708.1 766.5 L709.5 765.5 L710.8 764.6 L712.2 763.6 L713.5 762.6 L714.8 761.5 L716.2 760.5 L717.5 759.4 L718.7 758.3 L720.0 757.2 L721.3 756.1 L722.5 754.9 L723.8 753.8 L725.0 752.6 L726.2 751.4 L727.4 750.2 L728.6 749.0 L729.8 747.7 L731.0 746.5 L732.2 745.2 L733.3 743.9 L734.5 742.6 L735.6 741.3 L736.7 740.0 L737.8 738.6 L738.9 737.3 L740.0 735.9 L741.1 734.6 L742.2 733.2 L743.2 731.8 L744.3 730.4 L745.3 729.0 L746.3 727.5 L747.3 726.1 L748.3 724.6 L749.3 723.2 L750.3 721.7 L751.3 720.3 L752.3 718.8 L753.2 717.3 L754.2 715.8 L755.1 714.3 L756.0 712.8 L757.0 711.3 L757.9 709.8 L758.8 708.3 L759.7 706.8 L760.5 705.2 L761.4 703.7 L762.3 702.2 L763.1 700.7 L764.0 699.1 L764.8 697.6 L765.7 696.1 L766.5 694.5 L767.3 693.0 L768.1 691.4 L768.9 689.9 L769.7 688.3 L770.5 686.8 L771.2 685.2 L772.0 683.7 L772.8 682.1 L773.5 680.6 L774.3 679.0 L775.0 677.5 L775.7 675.9 L776.5 674.4 L777.2 672.8 L777.9 671.2 L778.6 669.7 L779.3 668.1 L780.0 666.5 L780.7 665.0 L781.4 663.4 L782.1 661.8 L782.7 660.2 L783.4 658.7 L784.1 657.1 L784.8 655.5 L785.4 653.9 L786.1 652.4 L786.7 650.8 L787.4 649.2 L788.0 647.6 L788.7 646.0 L789.3 644.5 L789.9 642.9 L790.6 641.3 L791.2 639.7 L791.8 638.1 L792.4 636.5 L793.1 634.9 L793.7 633.3 L794.3 631.7 L794.9 630.1 L795.5 628.5 L796.2 627.0 L796.8 625.4 L797.4 623.8 L798.0 622.2 L798.6 620.6 L799.2 619.0 L799.8 617.4 L800.4 615.8 L801.0 614.2 L801.7 612.6 L802.3 611.0 L802.9 609.4 L803.5 607.7 L804.1 606.1 L804.7 604.5 L805.3 602.9 L805.9 601.3 L806.5 599.7 L807.2 598.1 L807.8 596.5 L808.4 594.9 L809.0 593.3 L809.7 591.7 L810.3 590.1 L810.9 588.5 L811.5 586.8 L812.2 585.2 L812.8 583.6 L813.5 582.0 L814.1 580.4 L814.7 578.8 L815.4 577.2 L816.0 575.6 L816.7 574.0 L817.4 572.4 L818.0 570.8 L818.7 569.2 L819.3 567.5 L820.0 565.9 L820.7 564.3 L821.4 562.7 L822.0 561.1 L822.7 559.5 L823.4 557.9 L824.1 556.3 L824.8 554.8 L825.5 553.2 L826.2 551.6 L826.9 550.0 L827.6 548.4 L828.3 546.8 L829.0 545.2 L829.7 543.6 L830.4 542.1 L831.1 540.5 L831.8 538.9 L832.6 537.4 L833.3 535.8 L834.0 534.2 L834.8 532.7 L835.5 531.1 L836.2 529.6 L837.0 528.0 L837.7 526.5 L838.5 524.9 L839.2 523.4 L840.0 521.8 L840.8 520.3 L841.5 518.8 L842.3 517.2 L843.1 515.7 L843.9 514.2 L844.7 512.7 L845.5 511.2 L846.3 509.7 L847.1 508.2 L847.9 506.7 L848.8 505.2 L849.6 503.7 L850.5 502.2 L851.3 500.7 L852.2 499.2 L853.1 497.8 L854.0 496.3 L855.0 494.8 L855.9 493.4 L856.8 491.9 L857.8 490.4 L858.8 489.0 L859.8 487.5 L860.8 486.1 L861.8 484.7 L862.9 483.2 L864.0 481.8 L865.1 480.5 L866.2 479.2 L867.4 477.9 L868.6 476.6 L869.8 475.5 L871.1 474.4 L872.4 473.4 L873.8 472.4 L875.2 471.6 L876.6 470.8 L878.1 470.1 L879.7 469.6 L881.3 469.2 L883.0 468.9 L884.7 468.7 L886.5 468.6 L888.3 468.6 L890.1 468.8 L891.9 469.0 L893.6 469.3 L895.4 469.6 L897.1 470.1 L898.8 470.6 L900.4 471.2 L902.0 471.8 L903.6 472.5 L905.1 473.2 L906.6 474.0 L908.1 474.9 L909.5 475.8 L911.0 476.7 L912.3 477.7 L913.7 478.7 L915.0 479.8 L916.4 480.9 L917.6 482.0 L918.9 483.2 L920.2 484.3 L921.4 485.5 L922.7 486.7 L923.9 488.0 L925.1 489.2 L926.3 490.5 L927.5 491.7 L928.7 493.0 L929.8 494.3 L931.0 495.6 L932.2 496.8 L933.3 498.1 L934.5 499.4 L935.6 500.7 L936.8 502.0 L937.9 503.3 L939.1 504.6 L940.2 505.9 L941.3 507.2 L942.5 508.5 L943.6 509.8 L944.7 511.1 L945.8 512.4 L946.9 513.7 L948.0 515.0 L949.1 516.3 L950.2 517.6 L951.3 519.0 L952.4 520.3 L953.5 521.6 L954.6 522.9 L955.7 524.3 L956.7 525.6 L957.8 526.9 L958.9 528.3 L960.0 529.6 L961.0 530.9 L962.1 532.3 L963.2 533.6 L964.2 535.0 L965.3 536.3 L966.3 537.6 L967.4 539.0 L968.4 540.3 L969.5 541.7 L970.5 543.0 L971.6 544.4 L972.6 545.7 L973.7 547.1 L974.7 548.4 L975.8 549.8 L976.8 551.2 L977.8 552.5 L978.9 553.9 L979.9 555.2 L981.0 556.6 L982.0 557.9 L983.0 559.3 L984.1 560.7 L985.1 562.0 L986.2 563.4 L987.2 564.7 L988.2 566.1 L989.3 567.5 L990.3 568.8 L991.3 570.2 L992.4 571.6 L993.4 572.9 L994.5 574.3 L995.5 575.6 L996.5 577.0 L997.6 578.4 L998.6 579.7 L999.7 581.1 L1000.7 582.4 L1001.8 583.8 L1002.8 585.2 L1003.9 586.5 L1004.9 587.9 L1006.0 589.2 L1007.0 590.6 L1008.1 591.9 L1009.1 593.3 L1010.2 594.6 L1011.3 596.0 L1012.3 597.4 L1013.4 598.7 L1014.5 600.1 L1015.6 601.4 L1016.6 602.8 L1017.7 604.1 L1018.8 605.4 L1019.9 606.8 L1021.0 608.1 L1022.1 609.5 L1023.2 610.8 L1024.3 612.1 L1025.4 613.5 L1026.5 614.8 L1027.6 616.1 L1028.7 617.5 L1029.8 618.8 L1030.9 620.1 L1032.1 621.4 L1033.2 622.8 L1034.3 624.1 L1035.5 625.4 L1036.6 626.7 L1037.7 628.0 L1038.9 629.3 L1040.0 630.6 L1041.2 631.9 L1042.4 633.2 L1043.5 634.5 L1044.7 635.8 L1045.8 637.1 L1047.0 638.4 L1048.2 639.7 L1049.4 641.0 L1050.5 642.3 L1051.7 643.5 L1052.9 644.8 L1054.1 646.1 L1055.3 647.3 L1056.5 648.6 L1057.7 649.9 L1058.9 651.1 L1060.1 652.3 L1061.4 653.6 L1062.6 654.8 L1063.8 656.1 L1065.0 657.3 L1066.3 658.5 L1067.5 659.7 L1068.8 661.0 L1070.0 662.2 L1071.2 663.4 L1072.5 664.6 L1073.8 665.8 L1075.0 667.0 L1076.3 668.2 L1077.6 669.3 L1078.8 670.5 L1080.1 671.7 L1081.4 672.9 L1082.7 674.0 L1084.0 675.2 L1085.3 676.3 L1086.6 677.5 L1087.9 678.6 L1089.2 679.7 L1090.5 680.9 L1091.8 682.0 L1093.1 683.1 L1094.4 684.2 L1095.8 685.3 L1097.1 686.4 L1098.5 687.5 L1099.8 688.6 L1101.1 689.6 L1102.5 690.7 L1103.9 691.8 L1105.2 692.8 L1106.6 693.9 L1108.0 694.9 L1109.3 696.0 L1110.7 697.0 L1112.1 698.0 L1113.5 699.0 L1114.9 700.0 L1116.3 701.0 L1117.7 702.0 L1119.1 703.0 L1120.5 704.0 L1121.9 704.9 L1123.3 705.9 L1124.8 706.8 L1126.2 707.8 L1127.6 708.7 L1129.1 709.7 L1130.5 710.6 L1132.0 711.5 L1133.4 712.4 L1134.9 713.3 L1136.4 714.2 L1137.8 715.0 L1139.3 715.9 L1140.8 716.8 L1142.3 717.6 L1143.8 718.5 L1145.3 719.3 L1146.8 720.1 L1148.3 721.0 L1149.8 721.8 L1151.3 722.6 L1152.8 723.4 L1154.3 724.2 L1155.8 724.9 L1157.4 725.7 L1158.9 726.5 L1160.4 727.2 L1162.0 728.0 L1163.5 728.7 L1165.1 729.5 L1166.6 730.2 L1168.2 730.9 L1169.7 731.6 L1171.3 732.3 L1172.9 733.0 L1174.4 733.7 L1176.0 734.4 L1177.6 735.1 L1179.2 735.8 L1180.8 736.4 L1182.4 737.1 L1183.9 737.8 L1185.5 738.4 L1187.1 739.1 L1188.7 739.7 L1190.3 740.3 L1191.9 740.9 L1193.5 741.6 L1195.2 742.2 L1196.8 742.8 L1198.4 743.4 L1200.0 744.0 L1201.6 744.6 L1203.3 745.2 L1204.9 745.7 L1206.5 746.3 L1208.1 746.9 L1209.8 747.5 L1211.4 748.0 L1213.0 748.6 L1214.7 749.1 L1216.3 749.7 L1218.0 750.2 L1219.6 750.7 L1221.2 751.3 L1222.9 751.8 L1224.5 752.3 L1226.2 752.8 L1227.8 753.3 L1229.5 753.9 L1231.2 754.4 L1232.8 754.9 L1234.5 755.4 L1236.1 755.9 L1237.8 756.3 L1239.4 756.8 L1241.1 757.3 L1242.8 757.8 L1244.4 758.2 L1246.1 758.7 L1247.8 759.1 L1249.4 759.6 L1251.1 760.0 L1252.8 760.4 L1254.5 760.9 L1256.1 761.3 L1257.8 761.7 L1259.5 762.1 L1261.2 762.5 L1262.9 762.8 L1264.6 763.2 L1266.2 763.6 L1267.9 763.9 L1269.6 764.2 L1271.3 764.6 L1273.0 764.9 L1274.7 765.2 L1276.4 765.5 L1278.1 765.8 L1279.8 766.0 L1281.5 766.3 L1283.2 766.5 L1284.9 766.8 L1286.6 767.0 L1288.3 767.2 L1290.0 767.4 L1291.8 767.6 L1293.5 767.7 L1295.2 767.9 L1296.9 768.0 L1298.6 768.2 L1300.3 768.3 L1302.1 768.4 L1303.8 768.4 L1305.5 768.5 L1307.3 768.5 L1309.0 768.6" stroke="#000000"/>
</g>
<g stroke="#000" stroke-width="5.6" stroke-linecap="butt">
<line x1="204" y1="803.0" x2="225.4" y2="803.0"/>
<line x1="204" y1="613.2" x2="225.4" y2="613.2"/>
<line x1="204" y1="423.5" x2="225.4" y2="423.5"/>
<line x1="204" y1="233.8" x2="225.4" y2="233.8"/>
<line x1="204" y1="44.0" x2="225.4" y2="44.0"/>
<line x1="214" y1="708.1" x2="225.4" y2="708.1"/>
<line x1="214" y1="518.4" x2="225.4" y2="518.4"/>
<line x1="214" y1="328.6" x2="225.4" y2="328.6"/>
<line x1="214" y1="138.9" x2="225.4" y2="138.9"/>
<line x1="298.0" y1="850.3" x2="298.0" y2="873"/>
<line x1="442.4" y1="850.3" x2="442.4" y2="873"/>
<line x1="586.9" y1="850.3" x2="586.9" y2="873"/>
<line x1="731.3" y1="850.3" x2="731.3" y2="873"/>
<line x1="875.7" y1="850.3" x2="875.7" y2="873"/>
<line x1="1020.1" y1="850.3" x2="1020.1" y2="873"/>
<line x1="1164.6" y1="850.3" x2="1164.6" y2="873"/>
<line x1="1309.0" y1="850.3" x2="1309.0" y2="873"/>
<line x1="370.2" y1="850.3" x2="370.2" y2="863"/>
<line x1="514.6" y1="850.3" x2="514.6" y2="863"/>
<line x1="659.1" y1="850.3" x2="659.1" y2="863"/>
<line x1="803.5" y1="850.3" x2="803.5" y2="863"/>
<line x1="947.9" y1="850.3" x2="947.9" y2="863"/>
<line x1="1092.4" y1="850.3" x2="1092.4" y2="863"/>
<line x1="1236.8" y1="850.3" x2="1236.8" y2="863"/>
<path d="M225.4 41.2 V863 M222.6 850.3 H1311.8" fill="none"/>
<path d="M204 44.0 H225.4" />
</g>
<g font-family="'Liberation Serif', serif" font-weight="bold" font-size="48.5" text-anchor="end" fill="#000">
<text x="193" y="815.3">0</text>
<text x="193" y="625.5">1000</text>
<text x="193" y="435.8">2000</text>
<text x="193" y="246.1">3000</text>
<text x="193" y="56.3">4000</text>
</g>
<g font-family="'Liberation Sans', sans-serif" font-weight="bold" font-size="48" text-anchor="middle" fill="#000">
<text x="298.0" y="919.5" transform="translate(298.0 0) scale(1.073 1) translate(-298.0 0)">300</text>
<text x="442.4" y="919.5" transform="translate(442.4 0) scale(1.073 1) translate(-442.4 0)">350</text>
<text x="586.9" y="919.5" transform="translate(586.9 0) scale(1.073 1) translate(-586.9 0)">400</text>
<text x="731.3" y="919.5" transform="translate(731.3 0) scale(1.073 1) translate(-731.3 0)">450</text>
<text x="875.7" y="919.5" transform="translate(875.7 0) scale(1.073 1) translate(-875.7 0)">500</text>
<text x="1020.1" y="919.5" transform="translate(1020.1 0) scale(1.073 1) translate(-1020.1 0)">550</text>
<text x="1164.6" y="919.5" transform="translate(1164.6 0) scale(1.073 1) translate(-1164.6 0)">600</text>
<text x="1309.0" y="919.5" transform="translate(1309.0 0) scale(1.073 1) translate(-1309.0 0)">650</text>
</g>
<g stroke-width="5.5" stroke-linecap="round">
<line x1="264" y1="61.0" x2="351" y2="61.0" stroke="#ff0000"/>
<line x1="264" y1="108.5" x2="351" y2="108.5" stroke="#00ff00"/>
<line x1="264" y1="155.5" x2="351" y2="155.5" stroke="#0000ff"/>
<line x1="264" y1="202.5" x2="351" y2="202.5" stroke="#000000"/>
</g>
<g font-family="'Liberation Sans', sans-serif" font-size="40" fill="#000">
<text x="359.5" y="74.2">302</text>
<text x="359.5" y="121.7">312</text>
<text x="359.5" y="168.7">322</text>
<text x="359.5" y="215.7">332</text>
</g>
<text transform="translate(66.8 660.5) rotate(-90)" font-family="'Liberation Sans', sans-serif" font-size="62.5" fill="#000">Intensity / a.u.</text>
<g fill="none" stroke="#000" stroke-width="3" stroke-linecap="round" stroke-linejoin="round">
<path d="M651 982.3 L670.6 961.2"/>
<path d="M661.2 951.8 C663 948 666 944.3 669.5 944.3 C672 944.5 671.6 948 671.4 952 L670 975 C669.8 980 671 982 673.5 981.8 C676 981.5 678 979 679.3 976.3"/>
<path d="M698.2 982.3 L712 939.3"/>
</g>
<text x="0" y="0" transform="translate(729.7 983.3) scale(1.025 1)" font-family="'Liberation Sans', sans-serif" font-size="62" fill="#000">nm</text>
</svg>
</body></html>
